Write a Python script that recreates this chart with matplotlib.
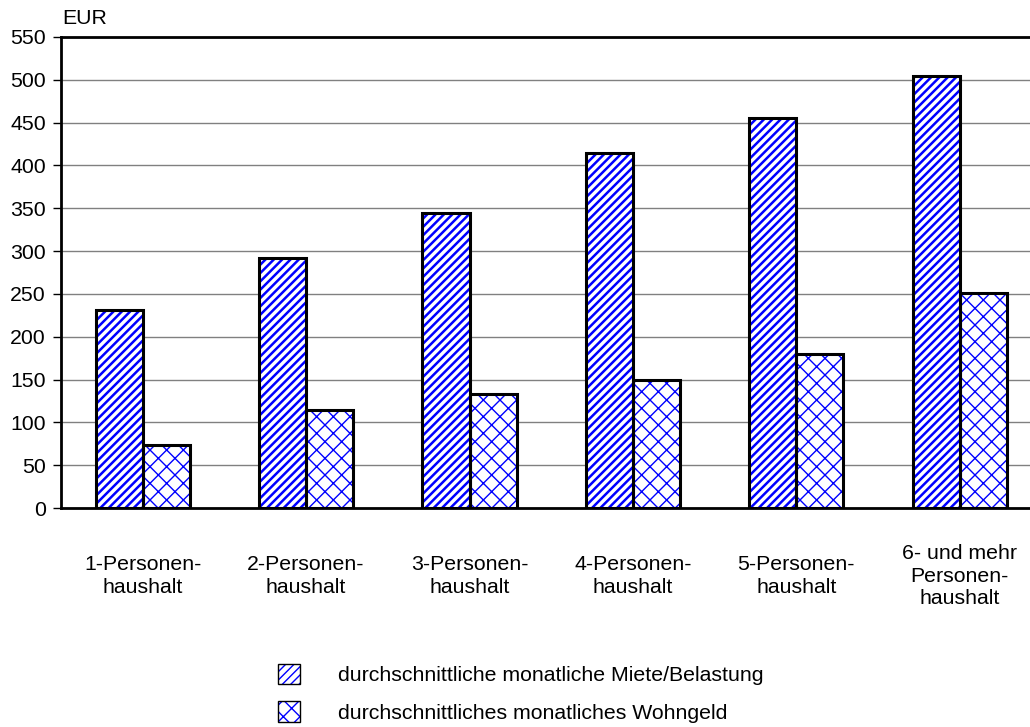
import matplotlib.pyplot as plt
import matplotlib.transforms as mtransforms
from matplotlib.patches import Patch
import numpy as np

plt.rcParams['font.family'] = ['Liberation Sans', 'DejaVu Sans']

groups = ['1-Personen-\nhaushalt', '2-Personen-\nhaushalt', '3-Personen-\nhaushalt',
          '4-Personen-\nhaushalt', '5-Personen-\nhaushalt', '6- und mehr\nPersonen-\nhaushalt']
miete = [231, 292, 344, 415, 455, 505]
wohngeld = [73, 115, 133, 149, 180, 251]
series_names = ['durchschnittliche monatliche Miete/Belastung',
                'durchschnittliches monatliches Wohngeld']
yticks = list(range(0, 551, 50))

blue = '#0000ff'
fs = 15.3

fig = plt.figure(figsize=(10.30, 7.27), dpi=100)
ax = fig.add_axes([61 / 1030, 1 - 508 / 727, 1 - 61 / 1030, (508 - 37) / 727])

x = np.arange(len(groups))
w = 0.288

# hatch layer first (hatch colour follows edge colour), black outline on top
plt.rcParams['hatch.linewidth'] = 1.8
ax.bar(x - w / 2, miete, w, color='white', edgecolor=blue, hatch='////', linewidth=0, zorder=2)
plt.rcParams['hatch.linewidth'] = 1.0
ax.bar(x + w / 2, wohngeld, w, color='white', edgecolor=blue, hatch='xx', linewidth=0, zorder=2)
ax.bar(x - w / 2, miete, w, color='none', edgecolor='black', linewidth=2.2, zorder=3)
ax.bar(x + w / 2, wohngeld, w, color='none', edgecolor='black', linewidth=2.2, zorder=3)

ax.set_xlim(-0.5, 5.43)
ax.set_ylim(0, 550)
ax.set_yticks(yticks)
ax.tick_params(axis='y', labelsize=fs, length=6, width=1, pad=5)
ax.set_xticks([])
ax.yaxis.grid(True, color='#808080', linewidth=1)
ax.set_axisbelow(True)

for s in ['left', 'bottom', 'top']:
    ax.spines[s].set_linewidth(2)
ax.spines['right'].set_visible(False)

trans = mtransforms.blended_transform_factory(ax.transData, ax.transAxes)
for xi, lab in zip(x, groups):
    ax.text(xi, -0.1444, lab, transform=trans, ha='center', va='center',
            fontsize=fs, linespacing=1.22)

fig.text(62 / 1030, 1 - 19 / 727, 'EUR', fontsize=fs, ha='left', va='center')

plt.rcParams['hatch.linewidth'] = 1.8
h1 = (Patch(facecolor='white', edgecolor=blue, hatch='////', linewidth=0),
      Patch(facecolor='none', edgecolor='black', linewidth=1))
plt.rcParams['hatch.linewidth'] = 1.0
h2 = (Patch(facecolor='white', edgecolor=blue, hatch='xx', linewidth=0),
      Patch(facecolor='none', edgecolor='black', linewidth=1))
fig.legend([h1, h2], series_names, loc='upper left',
           bbox_to_anchor=(278 / 1030, 1 - 664 / 727), frameon=False, fontsize=fs,
           handlelength=1.05, handleheight=1.1, handletextpad=1.75,
           labelspacing=0.75, borderpad=0, borderaxespad=0)

fig.savefig('out.png', dpi=100)
